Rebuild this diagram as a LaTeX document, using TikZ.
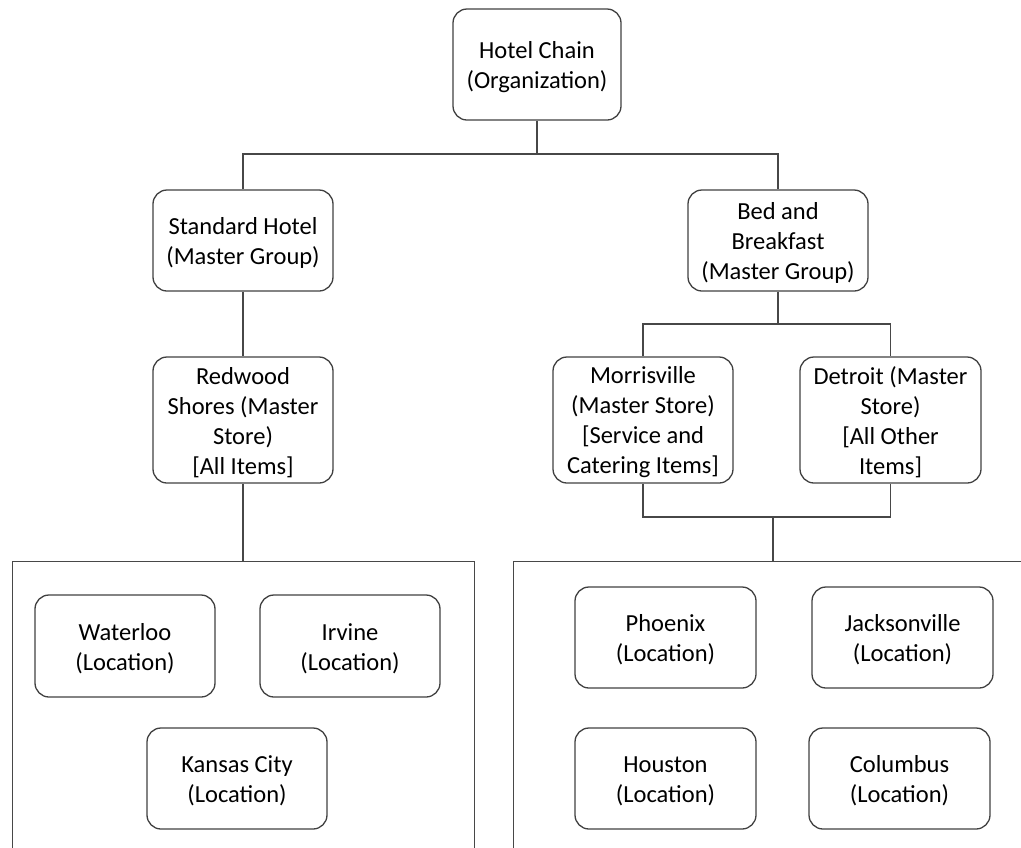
\documentclass[tikz,border=0pt]{standalone}
\usepackage{fontspec}
\setmainfont{Carlito}
\begin{document}
\begin{tikzpicture}[x=1pt,y=-1pt,
  box/.style={draw=black!75, line width=1.3pt, rounded corners=14pt,
    inner sep=0pt, label={[boxtext]center:{#1}}},
  boxtext/.style={align=center, inner sep=0pt, text=black, yshift=-2.5pt,
    font=\fontsize{24.5}{30}\selectfont},
  link/.style={draw=black!72, line width=1.5pt},
  group/.style={draw=black!72, line width=1.4pt, rectangle, inner sep=0pt,
    anchor=north west}]
\useasboundingbox (0,0) rectangle (1021,847);
\clip (0,0) rectangle (1021,847);

% organization and master groups
\node[box={Hotel Chain\\(Organization)}, minimum width=168pt, minimum height=111pt] (chain) at (537,64.5) {};
\node[box={Standard Hotel\\(Master Group)}, minimum width=180pt, minimum height=101pt] (std) at (243,240.5) {};
\node[box={Bed and\\Breakfast\\(Master Group)}, minimum width=180pt, minimum height=101pt] (bnb) at (778,240.5) {};

% master stores
\node[box={Redwood\\Shores (Master\\Store)\\{[}All Items{]}}, minimum width=180pt, minimum height=126pt] (redwood) at (243,420) {};
\node[box={Morrisville\\(Master Store)\\{[}Service and\\Catering Items{]}}, minimum width=180pt, minimum height=126pt] (morris) at (643,420) {};
\node[box={Detroit (Master\\Store)\\{[}All Other\\Items{]}}, minimum width=181pt, minimum height=126pt] (detroit) at (890.5,420) {};

% location groups
\node[group, minimum width=462pt, minimum height=340pt] (lgroup) at (12,561) {};
\node[group, minimum width=600pt, minimum height=340pt] (rgroup) at (513,561) {};

% locations
\node[box={Waterloo\\(Location)}, minimum width=180pt, minimum height=102pt] (waterloo) at (125,646) {};
\node[box={Irvine\\(Location)}, minimum width=180pt, minimum height=102pt] (irvine) at (350,646) {};
\node[box={Kansas City\\(Location)}, minimum width=180pt, minimum height=101pt] (kansas) at (237,778.5) {};
\node[box={Phoenix\\(Location)}, minimum width=181pt, minimum height=101pt] (phoenix) at (665.5,637.5) {};
\node[box={Jacksonville\\(Location)}, minimum width=181pt, minimum height=101pt] (jax) at (902.5,637.5) {};
\node[box={Houston\\(Location)}, minimum width=181pt, minimum height=101pt] (houston) at (665.5,778.5) {};
\node[box={Columbus\\(Location)}, minimum width=181pt, minimum height=101pt] (columbus) at (899.5,778.5) {};

% connectors
\coordinate (bus1) at (537,154);
\coordinate (bus2) at (778,324);
\coordinate (bus3) at (773,517);
\draw[link] (chain.south) -- (bus1);
\draw[link] (std.north) |- (bus1) -| (bnb.north);
\draw[link] (std.south) -- (redwood.north);
\draw[link] (redwood.south) -- (redwood.south |- lgroup.north);
\draw[link] (bnb.south) -- (bus2);
\draw[link] (morris.north) |- (bus2) -| (detroit.north);
\draw[link] (morris.south) |- (bus3) -| (detroit.south);
\draw[link] (bus3) -- (bus3 |- rgroup.north);
\end{tikzpicture}
\end{document}
